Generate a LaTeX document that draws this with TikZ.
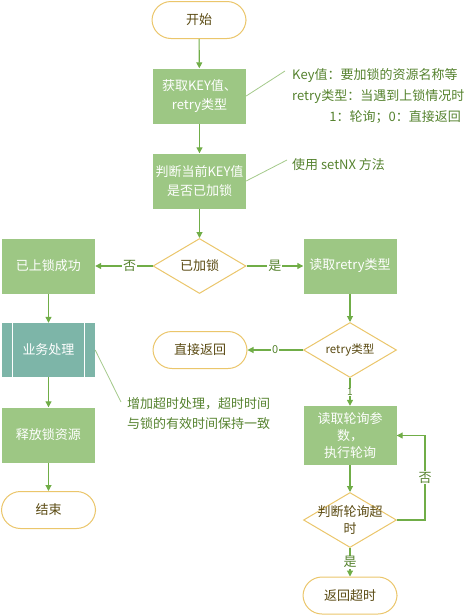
\documentclass[tikz,border=0pt]{standalone}
\usepackage{fontspec}
\setmainfont{Noto Sans CJK SC}
\usetikzlibrary{shapes.geometric,arrows.meta}
\definecolor{boxg}{HTML}{9DC784}
\definecolor{teal2}{HTML}{7DB5A8}
\definecolor{arrg}{HTML}{70AD47}
\definecolor{gold}{HTML}{EBC66B}
\definecolor{darkt}{HTML}{5A4A12}
\definecolor{notet}{HTML}{55822E}
\definecolor{notel}{HTML}{A3C98A}
\begin{document}
\begin{tikzpicture}[x=1pt,y=-1pt,
  font=\fontsize{13}{19}\selectfont,
  procbox/.style={rectangle, fill=boxg, text=white, minimum width=93pt, minimum height=55pt, align=center, inner sep=1pt},
  predef/.style={rectangle, fill=teal2, text=white, minimum width=93pt, minimum height=54pt, align=center, inner sep=2pt},
  term/.style={rectangle, rounded corners=19pt, draw=gold, line width=1pt, fill=white, text=darkt, minimum width=94pt, minimum height=37pt},
  dec/.style={diamond, draw=gold, line width=1pt, fill=white, minimum width=93pt, minimum height=55pt, inner sep=0pt, label={[text=darkt, align=center, font=\fontsize{13}{17}\selectfont]center:#1}},
  flow/.style={draw=arrg, line width=1.1pt, -{Triangle[length=6pt,width=6pt]}},
  lbl/.style={fill=white, text=notet, inner sep=1pt},
  noteline/.style={draw=notel, line width=0.8pt},
  notetext/.style={text=notet, inner sep=0pt}
]
\useasboundingbox (0,0) rectangle (471,616);

% main column
\node[term] (start) at (199,20) {开始};
\node[procbox] (getkey) at (199.5,96) {获取KEY值、\\retry类型};
\node[procbox] (judge) at (199.5,181) {判断当前KEY值\\是否已加锁};
\node[dec={已加锁}] (locked) at (199.5,266) {};

% left column
\node[procbox] (lockok) at (48.5,266) {已上锁成功};
\node[predef] (biz) at (48.5,350) {业务处理};
\draw[white, line width=1pt] ([xshift=10.5pt]biz.north west) -- ([xshift=10.5pt]biz.south west);
\draw[white, line width=1pt] ([xshift=-10.5pt]biz.north east) -- ([xshift=-10.5pt]biz.south east);
\node[procbox] (release) at (48.5,435) {释放锁资源};
\node[term] (finish) at (48.5,510) {结束};

% right column
\node[procbox] (readretry) at (350,266) {读取retry类型};
\node[dec={\fontsize{11.5}{14}\selectfont retry类型}] (rtype) at (350,350) {};
\node[term] (direct) at (200,350) {直接返回};
\node[procbox, minimum height=59pt, font=\fontsize{13}{17}\selectfont] (poll) at (350,435.5) {读取轮询参\\数，\\执行轮询};
\node[dec={判断轮询超\\时}] (ptime) at (350,520) {};
\node[term] (tout) at (350,595.5) {返回超时};

% connectors
\draw[flow] (start) -- (getkey);
\draw[flow] (getkey) -- (judge);
\draw[flow] (judge) -- (locked);
\draw[flow] (locked.west) -- node[lbl, pos=0.4] {否} (lockok.east);
\draw[flow] (locked.east) -- node[lbl] {是} (readretry.west);
\draw[flow] (lockok) -- (biz);
\draw[flow] (biz) -- (release);
\draw[flow] (release) -- (finish);
\draw[flow] (readretry) -- (rtype);
\draw[flow] (rtype.west) -- node[lbl, font=\fontsize{11}{12}\selectfont] {0} (direct.east);
\draw[flow] (rtype.south) -- node[lbl, font=\fontsize{10}{11}\selectfont, inner sep=0.5pt] {1} (poll.north);
\draw[flow] (poll) -- (ptime);
\draw[flow] (ptime.south) -- node[lbl] {是} (tout.north);
\draw[flow] (ptime.east) -- ++(28,0) |- node[lbl, pos=0.25] {否} (poll.east);

% annotations
\coordinate (n1) at (285,71);
\coordinate (n2) at (287,160);
\coordinate (n3) at (121,402);
\draw[noteline] (getkey.east) -- (n1);
\draw[noteline] (judge.east) -- (n2);
\draw[noteline] (biz.east) -- (n3);
\node[notetext, anchor=west] (t1) at (292,76) {Key值：要加锁的资源名称等};
\node[notetext, anchor=west] (t2) at (292,97) {retry类型：当遇到上锁情况时};
\node[notetext, anchor=east] (t3) at (461,117) {1：轮询；0：直接返回};
\node[notetext, anchor=west] (t4) at (292,165) {使用 setNX 方法};
\node[notetext, anchor=west] (t5) at (127,404) {增加超时处理，超时时间};
\node[notetext, anchor=west] (t6) at (127,424) {与锁的有效时间保持一致};
\end{tikzpicture}
\end{document}
